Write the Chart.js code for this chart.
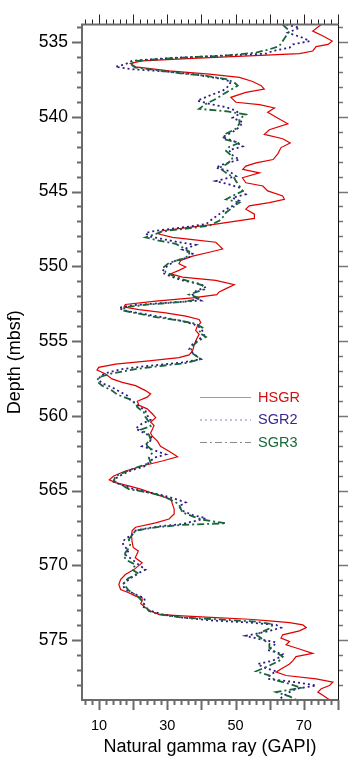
<!DOCTYPE html>
<html>
<head>
<meta charset="utf-8">
<script src="https://cdn.jsdelivr.net/npm/chart.js@4.4.1/dist/chart.umd.min.js"></script>
<style>
  html, body { margin: 0; padding: 0; background: #fff; }
  canvas { display: block; }
</style>
</head>
<body>
<canvas id="chartGR" width="358" height="767"></canvas>
<script>
// depth (mbsf) / natural gamma ray (GAPI)
var hsgrDepth = [533.83,534.27,534.60,534.94,535.16,535.31,535.60,535.78,535.93,536.09,536.26,536.44,536.66,536.93,537.15,537.37,537.64,537.92,538.15,538.37,538.70,539.03,539.19,539.41,539.70,540.03,540.47,540.87,541.18,541.47,541.75,542.06,542.46,542.86,543.08,543.30,543.52,543.75,544.08,544.41,544.63,544.96,545.29,545.52,545.74,545.96,546.18,546.51,546.80,546.95,547.18,547.40,547.62,547.84,548.06,548.22,548.39,548.62,548.84,549.06,549.32,549.61,549.83,550.05,550.27,550.50,550.72,550.94,551.23,551.49,551.71,551.89,552.11,552.33,552.55,552.73,552.89,553.11,553.33,553.55,553.77,553.99,554.28,554.55,554.77,554.99,555.32,555.65,555.92,556.10,556.32,556.54,556.76,556.94,557.20,557.53,557.76,557.98,558.31,558.53,558.75,559.02,559.30,559.53,559.86,560.12,560.41,560.63,560.92,561.14,561.36,561.69,562.03,562.36,562.58,562.74,563.02,563.35,563.69,564.02,564.28,564.46,564.68,564.90,565.13,565.35,565.57,565.90,566.23,566.56,566.90,567.16,567.45,567.67,568.00,568.45,568.80,569.03,569.49,569.83,570.28,570.61,570.95,571.28,571.61,571.83,572.05,572.16,572.38,572.56,572.83,573.05,573.27,573.38,573.49,573.60,573.71,573.82,573.98,574.16,574.38,574.64,574.86,575.08,575.31,575.59,575.88,576.10,576.37,576.59,576.92,577.14,577.36,577.59,577.81,578.03,578.25,578.47,578.76,578.98];
var hsgrValue = [75.1,72.6,75.6,78.3,77.1,73.6,72.6,68.7,54.0,37.4,22.6,19.2,20.7,30.5,42.3,51.1,55.0,57.5,58.4,53.0,48.6,50.1,57.0,61.4,59.4,61.9,65.3,59.9,58.4,63.8,66.0,63.3,62.4,61.0,56.0,53.0,52.1,57.0,52.0,53.0,58.0,59.4,63.8,64.3,59.9,54.0,53.0,55.5,55.5,51.1,44.2,36.4,28.5,27.5,31.5,37.4,44.2,45.2,46.2,42.3,37.4,33.9,33.4,35.4,33.4,31.0,34.4,44.2,49.6,47.2,45.2,44.5,37.4,26.6,17.7,17.3,21.7,29.5,35.4,39.3,39.8,38.8,38.3,39.3,38.8,38.3,37.8,37.4,36.4,33.4,24.6,14.8,9.9,9.4,11.9,13.8,16.8,20.7,23.6,25.1,24.1,21.2,21.7,24.1,25.6,26.6,25.1,26.1,25.6,25.1,25.6,27.1,28.0,30.5,32.0,33.0,28.5,22.6,17.7,14.3,13.0,14.8,18.7,22.2,25.1,28.0,31.0,31.5,32.0,32.0,30.5,26.6,20.7,19.7,19.5,19.7,20.0,21.5,20.6,22.6,20.2,17.7,16.3,15.8,16.3,18.7,20.7,22.6,22.6,22.2,23.6,25.1,27.5,34.4,44.2,54.0,59.9,65.8,69.7,70.7,68.7,63.8,63.3,65.8,64.8,68.7,72.6,67.7,66.8,65.8,63.3,61.9,64.8,73.6,78.5,77.5,75.1,74.1,76.1,77.5];

var sgr2Depth = [533.83,534.05,534.38,534.72,534.94,535.16,535.38,535.60,535.78,535.93,536.09,536.26,536.49,536.66,536.82,536.97,537.15,537.33,537.48,537.64,537.92,538.26,538.59,538.92,539.14,539.36,539.59,539.81,540.07,540.36,540.69,541.02,541.36,541.69,541.98,542.24,542.57,542.86,543.19,543.41,543.63,543.97,544.30,544.52,544.74,544.96,545.18,545.41,545.63,545.85,546.18,546.51,546.84,547.18,547.40,547.62,547.77,547.99,548.22,548.39,548.57,548.73,548.88,549.17,549.39,549.61,549.90,550.16,550.43,550.72,550.94,551.16,551.38,551.67,551.89,552.11,552.29,552.44,552.60,552.78,552.95,553.17,553.40,553.62,553.84,554.06,554.32,554.59,554.88,555.21,555.54,555.87,556.21,556.43,556.65,556.87,557.09,557.31,557.60,557.82,558.09,558.35,558.64,558.93,559.19,559.42,559.68,559.97,560.26,560.52,560.85,561.25,561.47,561.81,562.03,562.29,562.58,562.80,563.13,563.40,563.62,563.91,564.20,564.42,564.64,564.86,565.08,565.30,565.57,565.79,566.05,566.34,566.63,566.85,567.07,567.23,567.34,567.49,567.67,567.96,568.22,568.45,568.71,569.00,569.29,569.60,569.88,570.28,570.61,570.95,571.28,571.61,571.94,572.16,572.43,572.72,573.00,573.27,573.49,573.67,573.82,573.98,574.16,574.38,574.71,574.93,575.15,575.44,575.66,575.93,576.15,576.37,576.59,576.81,577.08,577.36,577.59,577.81,578.03,578.25,578.47,578.76,578.98];
var sgr2Value = [64.8,68.7,65.3,69.7,71.7,66.8,65.8,60.9,58.9,44.2,29.5,19.7,17.7,14.8,19.7,29.5,37.4,42.3,46.2,48.6,48.1,46.2,42.3,38.8,42.3,47.2,50.1,51.1,49.1,52.1,51.1,49.1,46.2,50.1,52.1,48.1,49.1,51.1,46.2,44.2,48.1,50.1,44.2,48.1,51.1,52.1,53.0,49.1,51.1,50.1,47.2,45.2,43.2,41.3,34.4,26.6,23.6,24.6,29.5,33.4,38.3,36.4,34.4,37.4,36.4,32.5,30.5,29.0,28.5,31.5,34.4,39.3,41.3,38.3,37.4,38.3,39.8,29.5,19.7,15.8,17.3,22.6,28.5,33.4,37.4,39.3,40.3,40.8,39.3,37.4,36.4,37.8,39.8,34.4,24.6,16.8,12.8,10.4,9.9,10.9,13.8,15.8,18.2,19.2,20.7,22.2,23.6,24.1,25.1,22.6,20.7,24.1,25.6,24.6,22.6,26.1,29.5,26.1,24.6,23.1,19.7,16.8,14.8,14.3,16.8,19.7,23.6,28.5,32.5,35.4,33.4,34.4,37.4,41.3,37.4,34.4,29.5,24.6,20.7,19.7,17.7,16.8,17.3,18.7,17.7,19.7,21.2,23.6,20.7,18.7,16.8,17.7,20.7,23.1,23.6,22.6,24.6,28.5,34.4,42.3,54.0,61.9,63.3,59.9,53.0,57.0,61.9,60.9,59.4,63.8,62.8,60.9,56.5,58.0,61.9,59.9,59.4,67.7,73.6,67.7,65.8,63.8,62.8];

var sgr3Depth = [533.83,534.27,534.60,534.94,535.27,535.49,535.71,535.93,536.04,536.15,536.26,536.49,536.71,536.88,537.11,537.26,537.48,537.70,537.92,538.26,538.52,538.81,539.14,539.47,539.63,539.85,540.14,540.47,540.80,541.13,541.47,541.75,542.02,542.28,542.57,542.86,543.19,543.41,543.75,544.08,544.30,544.63,544.96,545.29,545.52,545.74,546.07,546.40,546.73,546.95,547.29,547.51,547.66,547.84,548.06,548.28,548.50,548.73,549.01,549.28,549.50,549.77,550.05,550.39,550.72,551.01,551.27,551.54,551.89,552.16,552.38,552.55,552.73,552.95,553.17,553.40,553.62,553.84,554.10,554.44,554.72,555.03,555.43,555.83,556.21,556.47,556.65,556.87,557.16,557.42,557.69,557.98,558.31,558.57,558.86,559.15,559.42,559.75,560.08,560.41,560.70,560.92,561.25,561.58,561.92,562.20,562.47,562.80,563.13,563.47,563.75,564.02,564.35,564.64,564.90,565.13,565.35,565.61,565.90,566.19,566.45,566.72,566.94,567.18,567.29,567.45,567.67,567.96,568.27,568.56,568.84,569.15,569.44,569.73,569.95,570.28,570.57,570.84,571.10,571.39,571.68,572.05,572.38,572.72,573.05,573.27,573.49,573.60,573.76,573.93,574.16,574.38,574.64,574.93,575.26,575.53,575.82,576.10,576.37,576.70,577.08,577.36,577.65,577.92,578.18,578.47,578.76,578.98];
var sgr3Value = [63.8,65.8,64.8,63.8,62.8,59.9,56.0,46.2,34.4,27.5,20.7,19.2,20.7,26.6,34.4,41.3,47.2,49.6,50.6,48.1,46.2,44.2,41.3,39.3,47.2,53.0,51.1,51.1,50.1,47.2,46.2,51.1,48.1,47.2,48.6,49.1,47.2,45.2,47.2,49.6,50.1,51.1,52.1,49.1,47.2,51.1,49.1,47.2,46.2,45.2,42.3,34.4,28.5,26.6,23.6,27.5,32.5,34.4,36.4,36.4,34.4,30.5,29.0,29.5,32.5,36.4,40.3,40.8,36.4,39.8,34.4,24.6,17.7,16.8,21.7,26.6,33.4,38.3,40.3,39.3,41.3,38.8,36.9,37.4,39.8,35.4,28.5,20.7,13.8,9.9,9.4,10.9,13.8,15.3,18.7,20.7,21.2,23.1,23.6,24.6,25.1,22.2,24.6,25.1,23.6,25.1,25.6,24.6,25.1,20.7,17.7,14.8,14.3,16.8,18.7,24.6,28.5,31.0,33.4,33.9,34.4,37.4,40.3,47.2,34.4,26.6,20.7,19.7,18.7,19.2,18.7,17.7,17.3,18.7,20.7,19.7,21.7,18.7,17.3,17.7,18.7,21.2,22.6,23.6,24.6,27.5,34.4,44.2,56.0,60.9,60.4,58.4,56.0,57.9,59.9,59.9,61.9,63.8,62.8,59.9,56.0,59.9,61.4,65.8,69.2,61.9,65.8,67.7];

var seriesNames = ["HSGR", "SGR2", "SGR3"];
var depthLabels = [535, 540, 545, 550, 555, 560, 565, 570, 575];
var grLabels = [10, 30, 50, 70];

function pts(depth, value) {
    return depth.map(function (d, i) { return { x: value[i], y: d }; });
}

var lineColors = ["#e00000", "#2e1a86", "#17663a"];
var textColors = ["#d40f0f", "#3a2794", "#18683a"];
var dashes = [[], [2, 3], [7, 3, 2, 3]];

var FONT = "'Liberation Sans', Arial, Helvetica, sans-serif";

var frameTicks = {
    id: 'frameTicks',
    afterDraw: function (chart) {
        var c = chart.ctx, a = chart.chartArea;
        var xs = chart.scales.x, ys = chart.scales.y;
        c.save();
        c.setLineDash([]);
        var v, p, big;
        // x ticks every 2, long every 10
        for (v = 6; v <= 80; v += 2) {
            p = Math.round(xs.getPixelForValue(v)) + 0.5;
            big = v % 10 === 0;
            c.strokeStyle = "#6a6a6a"; c.lineWidth = 2;
            c.beginPath(); c.moveTo(p, a.bottom); c.lineTo(p, a.bottom + (big ? 10 : 5)); c.stroke();
            c.strokeStyle = "#222"; c.lineWidth = 1;
            c.beginPath(); c.moveTo(p, a.top); c.lineTo(p, a.top - (big ? 10 : 5)); c.stroke();
        }
        // depth ticks every 1, long every 5
        for (v = 534; v <= 578; v += 1) {
            p = Math.round(ys.getPixelForValue(v)) + 0.5;
            big = v % 5 === 0;
            c.strokeStyle = "#6a6a6a"; c.lineWidth = 2;
            c.beginPath(); c.moveTo(a.left, p); c.lineTo(a.left - (big ? 10 : 5), p); c.stroke();
            c.strokeStyle = "#777"; c.lineWidth = 1.5;
            c.beginPath(); c.moveTo(a.right, p); c.lineTo(a.right + (big ? 10 : 5), p); c.stroke();
        }
        // frame
        c.strokeStyle = "#6a6a6a"; c.lineWidth = 2;
        c.beginPath();
        c.moveTo(a.right, a.top); c.lineTo(a.left, a.top); c.lineTo(a.left, a.bottom); c.lineTo(a.right, a.bottom);
        c.stroke();
        c.strokeStyle = "#111"; c.lineWidth = 1;
        c.beginPath(); c.moveTo(a.right + 0.5, a.top); c.lineTo(a.right + 0.5, a.bottom); c.stroke();

        // legend
        c.font = "14.5px " + FONT;
        c.textBaseline = "middle";
        for (var i = 0; i < 3; i++) {
            var ly = a.top + 373 + i * 22.5;
            c.strokeStyle = i === 0 ? "#c98a8a" : (i === 1 ? "#8a80c0" : "#8a8a8a");
            c.lineWidth = 1;
            c.setLineDash(dashes[i]);
            c.beginPath(); c.moveTo(a.left + 118, ly); c.lineTo(a.left + 169, ly); c.stroke();
            c.setLineDash([]);
            c.fillStyle = textColors[i];
            c.fillText(seriesNames[i], a.left + 176, ly);
        }
        c.restore();
    }
};

var ctx = document.getElementById("chartGR");

var myChart = new Chart(ctx, {
    type: 'scatter',
    data: {
        datasets: [{
            label: seriesNames[0],
            data: pts(hsgrDepth, hsgrValue),
            showLine: true,
            borderColor: lineColors[0],
            borderWidth: 1.2,
            pointRadius: 0,
            order: 3
        }, {
            label: seriesNames[1],
            data: pts(sgr2Depth, sgr2Value),
            showLine: true,
            borderColor: lineColors[1],
            borderDash: dashes[1],
            borderWidth: 1.8,
            pointRadius: 0,
            order: 2
        }, {
            label: seriesNames[2],
            data: pts(sgr3Depth, sgr3Value),
            showLine: true,
            borderColor: lineColors[2],
            borderDash: dashes[2],
            borderWidth: 1.8,
            pointRadius: 0,
            order: 1
        }]
    },
    options: {
        responsive: false,
        animation: false,
        devicePixelRatio: 1,
        layout: { padding: { top: 20, right: 20, left: 0, bottom: 0 } },
        plugins: {
            legend: { display: false },
            tooltip: { enabled: false }
        },
        scales: {
            x: {
                type: 'linear',
                position: 'bottom',
                min: 5,
                max: 80,
                afterBuildTicks: function (s) { s.ticks = grLabels.map(function (v) { return { value: v }; }); },
                afterFit: function (s) { s.height = 67; },
                grid: { display: false, drawTicks: false },
                border: { display: false },
                ticks: { padding: 17, color: "#000", font: { family: FONT, size: 14.5 }, maxRotation: 0, autoSkip: false },
                title: {
                    display: true,
                    text: "Natural gamma ray (GAPI)",
                    color: "#000",
                    font: { family: FONT, size: 18 },
                    padding: { top: 0, bottom: 9.5 }
                }
            },
            y: {
                type: 'linear',
                reverse: true,
                min: 533.83,
                max: 579,
                afterBuildTicks: function (s) { s.ticks = depthLabels.map(function (v) { return { value: v }; }); },
                afterFit: function (s) { s.width = 82; },
                grid: { display: false, drawTicks: false },
                border: { display: false },
                ticks: { padding: 14, color: "#000", font: { family: FONT, size: 17.5 }, autoSkip: false },
                title: {
                    display: true,
                    text: "Depth (mbsf)",
                    color: "#000",
                    font: { family: FONT, size: 18 },
                    padding: { top: 4, bottom: 0 }
                }
            }
        }
    },
    plugins: [frameTicks]
});
</script>
</body>
</html>
